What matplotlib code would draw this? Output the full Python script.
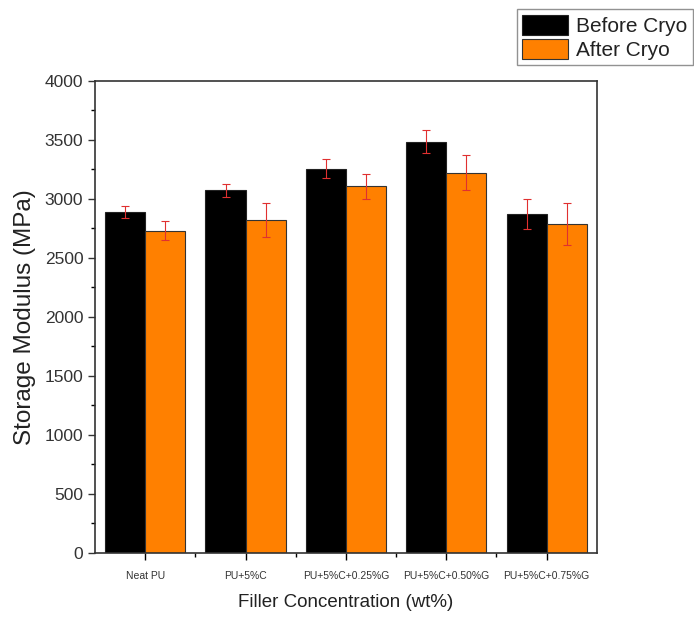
import numpy as np
import matplotlib.pyplot as plt
from matplotlib.ticker import MultipleLocator

categories = ["Neat PU", "PU+5%C", "PU+5%C+0.25%G", "PU+5%C+0.50%G", "PU+5%C+0.75%G"]
before_cryo = [2890, 3075, 3257, 3486, 2873]
before_err = [50, 55, 80, 97, 127]
after_cryo = [2731, 2822, 3107, 3223, 2788]
after_err = [80, 145, 103, 150, 174]

plt.rcParams['font.family'] = ['Liberation Sans', 'DejaVu Sans']

fig = plt.figure(figsize=(6.94, 6.23), dpi=100)
ax = fig.add_axes([0.137, 0.1124, 0.723, 0.7576])

x = np.arange(1, len(categories) + 1)
w = 0.4
err_style = dict(ecolor="#e03030", elinewidth=0.8, capsize=3, capthick=0.8)
ax.bar(x - w / 2, before_cryo, w, yerr=before_err, color="black",
       edgecolor="#222222", linewidth=0.8, label="Before Cryo", error_kw=err_style)
ax.bar(x + w / 2, after_cryo, w, yerr=after_err, color="#ff8000",
       edgecolor="#333333", linewidth=0.8, label="After Cryo", error_kw=err_style)

ax.set_xlim(0.5, 5.5)
ax.set_ylim(0, 4000)
ax.set_xticks(x)
ax.set_xticklabels(categories, fontsize=7.5, color="#333333")
ax.xaxis.set_minor_locator(plt.FixedLocator(np.arange(1.5, 5.5, 1)))
ax.yaxis.set_major_locator(MultipleLocator(500))
ax.yaxis.set_minor_locator(MultipleLocator(250))
ax.tick_params(axis="y", labelsize=12.5, direction="out", length=5, width=1, colors="#333333")
ax.tick_params(axis="x", direction="out", length=5, width=1, pad=8)
ax.tick_params(which="minor", direction="out", length=3, width=1)
for s in ax.spines.values():
    s.set_color("#333333")
    s.set_linewidth(1.2)

ax.set_xlabel("Filler Concentration (wt%)", fontsize=13.5, color="#222222", labelpad=9)
ax.set_ylabel("Storage Modulus (MPa)", fontsize=17.5, color="#222222", labelpad=6)

leg = fig.legend(loc="upper right", bbox_to_anchor=(0.998, 0.985), fontsize=15,
                 fancybox=False, edgecolor="#777777", handlelength=2.2, handleheight=1.1,
                 borderpad=0.25, labelspacing=0.15, handletextpad=0.4, borderaxespad=0)
for t in leg.get_texts():
    t.set_color("#222222")

fig.savefig("out.png", dpi=100)
